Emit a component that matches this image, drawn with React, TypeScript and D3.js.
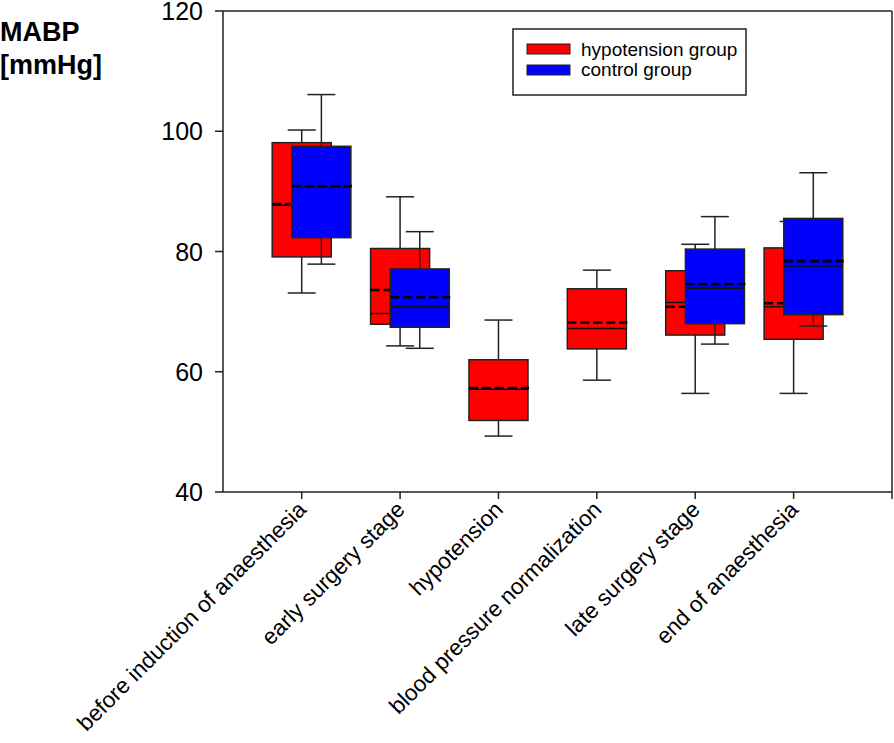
import React from "react";
import * as d3 from "d3";

const categories = [
  "before induction of anaesthesia",
  "early surgery stage",
  "hypotension",
  "blood pressure normalization",
  "late surgery stage",
  "end of anaesthesia",
];
const yTicks = [40, 60, 80, 100, 120];
const seriesNames = ["hypotension group", "control group"];
const seriesColors = ["#ff0000", "#0000ff"];

// hypotension group (red)
const redLow = [73.1, 64.3, 49.3, 58.6, 56.4, 56.4];
const redQ1 = [79.1, 67.9, 51.9, 63.8, 66.1, 65.4];
const redMedian = [87.7, 69.7, 57.1, 67.2, 71.5, 70.8];
const redMean = [87.9, 73.6, 57.3, 68.2, 70.8, 71.4];
const redQ3 = [98.1, 80.5, 62.0, 73.8, 76.8, 80.6];
const redHigh = [100.2, 89.1, 68.6, 76.9, 81.2, 85.0];

// control group (blue) — absent in hypotension / normalization stages
const blueLow = [77.9, 63.9, null, null, 64.6, 67.6];
const blueQ1 = [82.3, 67.4, null, null, 68.0, 69.5];
const blueMedian = [90.7, 70.8, null, null, 73.9, 77.6];
const blueMean = [90.9, 72.4, null, null, 74.6, 78.4];
const blueQ3 = [97.5, 77.1, null, null, 80.4, 85.5];
const blueHigh = [106.1, 83.3, null, null, 85.8, 93.1];

type Box = { lo: number; q1: number; med: number; mean: number; q3: number; hi: number };

function build(lo: any[], q1: any[], med: any[], mean: any[], q3: any[], hi: any[]): (Box | null)[] {
  return lo.map((v, i) =>
    v == null ? null : { lo: v, q1: q1[i], med: med[i], mean: mean[i], q3: q3[i], hi: hi[i] }
  );
}

const FONT = "Arial, 'Liberation Sans', sans-serif";

export default function App() {
  const W = 894;
  const H = 743;
  const x = d3.scaleLinear().domain([0.2, 7]).range([223, 892]);
  const y = d3.scaleLinear().domain([40, 120]).range([492, 11]);
  const series = [
    build(redLow, redQ1, redMedian, redMean, redQ3, redHigh),
    build(blueLow, blueQ1, blueMedian, blueMean, blueQ3, blueHigh),
  ];
  const offsets = [0, 0.2];
  const boxW = x(0.6) - x(0);
  const capW = 28;
  const stroke = "#222";

  const xTickVals = d3.range(1, 8);

  const renderBox = (b: Box, cx: number, color: string, key: string) => {
    const half = boxW / 2;
    return (
      <g key={key}>
        <line x1={cx} x2={cx} y1={y(b.hi)} y2={y(b.q3)} stroke={stroke} strokeWidth={1.5} />
        <line x1={cx - capW / 2} x2={cx + capW / 2} y1={y(b.hi)} y2={y(b.hi)} stroke={stroke} strokeWidth={1.5} />
        <line x1={cx} x2={cx} y1={y(b.q1)} y2={y(b.lo)} stroke={stroke} strokeWidth={1.5} />
        <line x1={cx - capW / 2} x2={cx + capW / 2} y1={y(b.lo)} y2={y(b.lo)} stroke={stroke} strokeWidth={1.5} />
        <rect
          x={cx - half}
          y={y(b.q3)}
          width={boxW}
          height={y(b.q1) - y(b.q3)}
          fill={color}
          stroke={stroke}
          strokeWidth={1.5}
        />
        <line x1={cx - half} x2={cx + half} y1={y(b.med)} y2={y(b.med)} stroke="#111" strokeWidth={1.5} />
        <line
          x1={cx - half}
          x2={cx + half + 1}
          y1={y(b.mean)}
          y2={y(b.mean)}
          stroke="#000"
          strokeWidth={2.6}
          strokeDasharray="9,4"
        />
      </g>
    );
  };

  return (
    <svg width={W} height={H} style={{ position: "absolute", left: 0, top: 0, background: "#fff" }}>
      {/* frame */}
      <line x1={223} x2={892} y1={11} y2={11} stroke={stroke} strokeWidth={1.5} />
      <line x1={892} x2={892} y1={11} y2={492} stroke={stroke} strokeWidth={1.5} />
      <line x1={223} x2={223} y1={11} y2={492} stroke={stroke} strokeWidth={1.5} />
      <line x1={223} x2={892} y1={492} y2={492} stroke={stroke} strokeWidth={1.5} />

      {/* y ticks */}
      {yTicks.map((t) => (
        <g key={"yt" + t}>
          <line x1={215} x2={223} y1={y(t)} y2={y(t)} stroke={stroke} strokeWidth={1.5} />
          <text x={203} y={y(t)} dy="0.36em" textAnchor="end" fontFamily={FONT} fontSize={25} fill="#000">
            {t}
          </text>
        </g>
      ))}

      {/* x ticks */}
      {xTickVals.map((t) => (
        <line key={"xt" + t} x1={x(t)} x2={x(t)} y1={492} y2={499} stroke={stroke} strokeWidth={1.5} />
      ))}
      {categories.map((c, i) => (
        <text
          key={"xl" + i}
          transform={`translate(${x(i + 1) + 6},${511}) rotate(-45)`}
          textAnchor="end"
          fontFamily={FONT}
          fontSize={22.5}
          fill="#000"
        >
          {c}
        </text>
      ))}

      {/* y title */}
      <text x={0} y={41} fontFamily={FONT} fontSize={27} fontWeight="bold" fill="#000">
        MABP
      </text>
      <text x={0} y={74} fontFamily={FONT} fontSize={27} fontWeight="bold" fill="#000">
        [mmHg]
      </text>

      {/* boxes */}
      {categories.map((c, i) => (
        <g key={"grp" + i}>
          {series.map((s, si) => {
            const b = s[i];
            if (!b) return null;
            return renderBox(b, x(i + 1 + offsets[si]), seriesColors[si], `b${i}-${si}`);
          })}
        </g>
      ))}

      {/* legend */}
      <rect x={513} y={29} width={233} height={66} fill="#fff" stroke={stroke} strokeWidth={1.5} />
      {seriesNames.map((n, i) => (
        <g key={"lg" + i}>
          <rect x={527} y={44 + i * 21} width={43} height={10} fill={seriesColors[i]} stroke={stroke} strokeWidth={1} />
          <text x={581} y={56 + i * 20} fontFamily={FONT} fontSize={19} fill="#000">
            {n}
          </text>
        </g>
      ))}
    </svg>
  );
}
